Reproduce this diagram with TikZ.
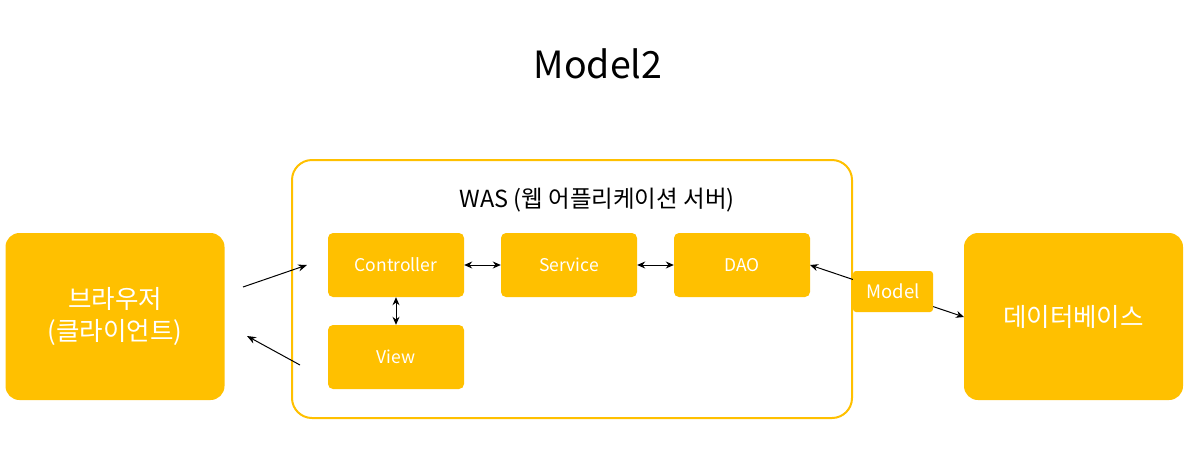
\documentclass[tikz,border=0pt]{standalone}
\usepackage{fontspec}
\setmainfont{Noto Sans CJK KR}
\usetikzlibrary{arrows.meta}
\definecolor{gold}{HTML}{FFC000}
\tikzset{
  box/.style={fill=gold, draw=none, rounded corners=5pt, text=white, font=\fontsize{17.5}{20}\selectfont, minimum width=136pt, minimum height=64pt, inner sep=0pt},
  bigbox/.style={fill=gold, draw=none, rounded corners=14pt, text=white, font=\fontsize{25.5}{32}\selectfont, minimum width=219pt, minimum height=167pt, align=center, inner sep=0pt},
  conn/.style={-{Stealth[length=9pt,width=7pt]}, line width=1pt},
  dconn/.style={{Stealth[length=8pt,width=7pt]}-{Stealth[length=8pt,width=7pt]}, line width=1pt},
}
\begin{document}
\begin{tikzpicture}[x=1pt,y=-1pt]
\useasboundingbox (0,0) rectangle (1194,464);
\node (title) at (598,64) {\fontsize{37.5}{44}\selectfont Model2};
\draw[gold, line width=2pt, rounded corners=20pt] (292,160) rectangle (852,418);
\node (was) at (597,200) {\fontsize{23.5}{28}\selectfont WAS (웹 어플리케이션 서버)};
\node[bigbox] (browser) at (115,316.5) {브라우저\\(클라이언트)};
\node[bigbox] (db) at (1073.5,316.5) {데이터베이스};
\node[box] (ctrl) at (396,265) {Controller};
\node[box] (svc) at (569,265) {Service};
\node[box] (dao) at (742,265) {DAO};
\node[box] (view) at (396,357) {View};
\coordinate (b1) at (243,287);
\coordinate (b2) at (307,265);
\coordinate (v1) at (300,365);
\coordinate (v2) at (247,336);
\draw[conn] (b1) -- (b2);
\draw[conn] (v1) -- (v2);
\draw[dconn] (ctrl.east) -- (svc.west);
\draw[dconn] (svc.east) -- (dao.west);
\draw[dconn] (ctrl.south) -- (view.north);
\coordinate (d1) at (810,265);
\coordinate (d2) at (964,317);
\draw[dconn] (d1) -- (d2);
\node[fill=gold, rounded corners=3pt, text=white, font=\fontsize{18.5}{22}\selectfont, minimum width=80pt, minimum height=41pt, inner sep=0pt] (model) at (893,291.5) {Model};
\end{tikzpicture}
\end{document}
